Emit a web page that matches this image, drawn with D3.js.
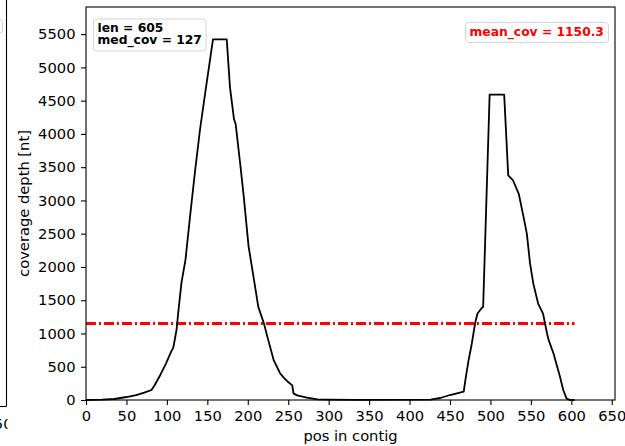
<!DOCTYPE html>
<html>
<head>
<meta charset="utf-8">
<script src="https://cdn.jsdelivr.net/npm/d3@7"></script>
<style>
  body { margin: 0; background: #fff; }
  svg { display: block; }
</style>
</head>
<body>
<script>
// coverage profile (position in contig, depth)
var positions = [0, 20, 35, 50, 62, 72, 81, 85, 92, 99, 105, 108, 112, 114, 118, 123, 129, 135, 141, 148, 154, 157,
                 174, 178, 183, 185, 191, 195, 201, 207, 213, 220, 224, 232, 240, 245, 250, 255, 256.5, 261, 273, 286,
                 300, 330, 426, 438, 450, 467, 469, 473, 477, 481, 484, 489, 491, 499, 517, 522, 528, 535, 541, 545,
                 549, 553, 559, 565, 570, 572, 578, 586, 590, 594, 598, 604];
var coverage  = [0, 5, 15, 45, 75, 110, 150, 225, 380, 550, 720, 790, 1060, 1310, 1760, 2110, 2800, 3460, 4070, 4670, 5170, 5420,
                 5420, 4700, 4220, 4150, 3510, 3060, 2310, 1860, 1400, 1150, 960, 600, 400, 330, 270, 220, 100, 70, 35, 10,
                 5, 2, 5, 30, 75, 125, 300, 600, 850, 1150, 1300, 1380, 1400, 4590, 4590, 3375, 3300, 3100, 2750, 2500,
                 2050, 1750, 1450, 1300, 1000, 900, 700, 350, 150, 25, 0, 0];

var contigLen = 605;
var medCov = 127;
var meanCov = 1150.3;

var xTicks = d3.range(0, 651, 50);
var yTicks = d3.range(0, 5501, 500);

var svg = d3.select("body")
            .append("svg")
            .attr("width", 625)
            .attr("height", 446);

var margin = {top: 7, right: 10, bottom: 46, left: 86};
var width = 625 - margin.left - margin.right;
var height = 446 - margin.top - margin.bottom;

// bits of the neighbouring subplot that peek in at the left edge
svg.append("line")
   .attr("x1", 6.5).attr("x2", 6.5).attr("y1", 0).attr("y2", 406.5)
   .attr("stroke", "#000").attr("stroke-width", 1.1);
svg.append("line")
   .attr("x1", 0).attr("x2", 6.5).attr("y1", 406.5).attr("y2", 406.5)
   .attr("stroke", "#000").attr("stroke-width", 1.1);
svg.append("rect")
   .attr("x", -50).attr("y", 19).attr("width", 52.5).attr("height", 14).attr("rx", 3)
   .attr("fill", "none").attr("stroke", "#d4d4d4");
svg.append("clipPath").attr("id", "cutLeft")
   .append("rect").attr("x", 0).attr("y", 400).attr("width", 7.5).attr("height", 46);
svg.append("text")
   .attr("x", 12.5).attr("y", 429)
   .attr("text-anchor", "end")
   .attr("clip-path", "url(#cutLeft)")
   .style("font-family", "DejaVu Sans")
   .style("font-size", "14.7px")
   .text("650");

var g = svg.append("g")
           .attr("transform", "translate(" + margin.left + "," + margin.top + ")");

var xScale = d3.scaleLinear()
               .domain([0, 654])
               .range([0, width]);

var yScale = d3.scaleLinear()
               .domain([0, 5908])
               .range([height, 0]);

var xAxis = g.append("g")
             .attr("transform", "translate(0," + height + ")")
             .call(d3.axisBottom(xScale).tickValues(xTicks).tickFormat(d3.format("d"))
                     .tickSize(5).tickPadding(5.5).tickSizeOuter(0));

var yAxis = g.append("g")
             .call(d3.axisLeft(yScale).tickValues(yTicks).tickFormat(d3.format("d"))
                     .tickSize(5).tickPadding(5.5).tickSizeOuter(0));

[xAxis, yAxis].forEach(function(ax) {
  ax.select(".domain").remove();
  ax.selectAll("line").attr("stroke", "#000").attr("stroke-width", 1.1);
  ax.selectAll("text")
    .attr("fill", "#000")
    .style("font-family", "DejaVu Sans")
    .style("font-size", "14.7px");
});

// mean coverage line
g.append("line")
 .attr("x1", xScale(0))
 .attr("x2", xScale(contigLen - 1))
 .attr("y1", yScale(meanCov))
 .attr("y2", yScale(meanCov))
 .attr("stroke", "red")
 .attr("stroke-width", 2.8)
 .attr("stroke-dasharray", "10,3,2,3");

var line = d3.line()
             .x(function(d) { return xScale(d[0]); })
             .y(function(d) { return yScale(d[1]); });

g.append("path")
 .datum(d3.zip(positions, coverage))
 .attr("d", line)
 .attr("fill", "none")
 .attr("stroke", "#000")
 .attr("stroke-width", 1.8)
 .attr("stroke-linejoin", "round");

// frame
g.append("rect")
 .attr("width", width)
 .attr("height", height)
 .attr("fill", "none")
 .attr("stroke", "#000")
 .attr("stroke-width", 1.1);

// text boxes
svg.append("rect")
   .attr("x", 93.5).attr("y", 19).attr("width", 112.5).attr("height", 32).attr("rx", 3)
   .attr("fill", "#fff").attr("fill-opacity", 0.85).attr("stroke", "#d4d4d4");
svg.append("text")
   .attr("x", 97.5).attr("y", 31.7)
   .style("font-family", "DejaVu Sans").style("font-weight", "bold").style("font-size", "12.3px")
   .text("len = " + contigLen);
svg.append("text")
   .attr("x", 97.5).attr("y", 44.2)
   .style("font-family", "DejaVu Sans").style("font-weight", "bold").style("font-size", "12.3px")
   .text("med_cov = " + medCov);

svg.append("rect")
   .attr("x", 465.5).attr("y", 22.5).attr("width", 143).attr("height", 20).attr("rx", 3)
   .attr("fill", "#fff").attr("fill-opacity", 0.85).attr("stroke", "#d4d4d4");
svg.append("text")
   .attr("x", 469.5).attr("y", 36.3)
   .attr("fill", "red")
   .style("font-family", "DejaVu Sans").style("font-weight", "bold").style("font-size", "12.3px")
   .text("mean_cov = " + meanCov);

// axis labels
svg.append("text")
   .attr("x", margin.left + width / 2)
   .attr("y", 441)
   .attr("text-anchor", "middle")
   .style("font-family", "DejaVu Sans")
   .style("font-size", "14.7px")
   .text("pos in contig");

svg.append("text")
   .attr("transform", "translate(29," + (margin.top + height / 2) + ") rotate(-90)")
   .attr("text-anchor", "middle")
   .style("font-family", "DejaVu Sans")
   .style("font-size", "14.7px")
   .text("coverage depth [nt]");
</script>
</body>
</html>
